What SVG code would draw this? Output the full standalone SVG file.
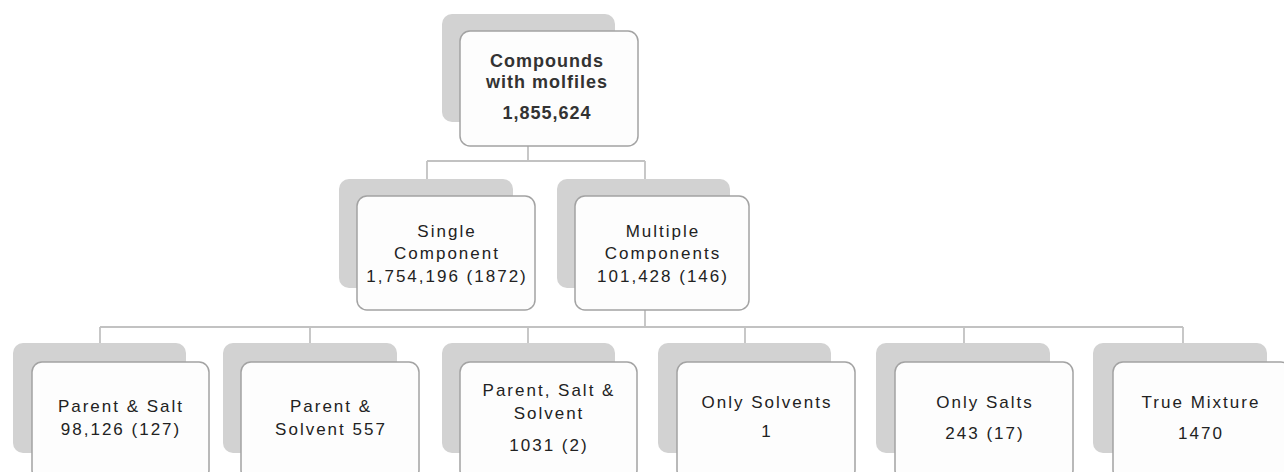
<svg xmlns="http://www.w3.org/2000/svg" width="1284" height="472" viewBox="0 0 1284 472">
<style>
.sh{fill:#d2d2d2}
.fr{fill:#fdfdfd;stroke:#a3a3a3;stroke-width:1.5}
.t{font-family:"Liberation Sans",Arial,sans-serif;font-size:17px;letter-spacing:2px;fill:#222;text-anchor:middle}
.b{font-weight:bold;fill:#333;font-size:18px;letter-spacing:1px}
.c{fill:none;stroke:#c2c2c2;stroke-width:1.8}
</style>
<rect width="1284" height="472" fill="#ffffff"/>
<g id="connectors">
<path class="c" d="M528 146V161M427 161H645M427 161V179M645 161V179"/>
<path class="c" d="M645 310V327M100 327H1183M100 327V343M310 327V343M528 327V343M745 327V343M964 327V343M1183 327V343"/>
</g>
<g id="n-top">
<rect class="sh" x="442" y="14" width="173" height="108" rx="10"/>
<rect class="fr" x="460" y="31" width="178" height="115" rx="10"/>
<text class="t b" x="547" y="67">Compounds</text>
<text class="t b" x="547" y="88">with molfiles</text>
<text class="t b" x="547" y="119">1,855,624</text>
</g>
<g id="n-single">
<rect class="sh" x="339" y="179" width="174" height="109" rx="10"/>
<rect class="fr" x="357" y="196" width="178" height="114" rx="10"/>
<text class="t" x="447" y="237">Single</text>
<text class="t" x="447" y="259">Component</text>
<text class="t" x="447" y="282">1,754,196 (1872)</text>
</g>
<g id="n-multiple">
<rect class="sh" x="557" y="179" width="173" height="109" rx="10"/>
<rect class="fr" x="575" y="196" width="174" height="114" rx="10"/>
<text class="t" x="663" y="237">Multiple</text>
<text class="t" x="663" y="259">Components</text>
<text class="t" x="663" y="282">101,428 (146)</text>
</g>
<g id="n-parent-salt">
<rect class="sh" x="13" y="343" width="173" height="110" rx="10"/>
<rect class="fr" x="32" y="362" width="177" height="118" rx="10"/>
<text class="t" x="121" y="412">Parent &amp; Salt</text>
<text class="t" x="121" y="435">98,126 (127)</text>
</g>
<g id="n-parent-solvent">
<rect class="sh" x="223" y="343" width="174" height="110" rx="10"/>
<rect class="fr" x="241" y="362" width="178" height="118" rx="10"/>
<text class="t" x="331" y="412">Parent &amp;</text>
<text class="t" x="331" y="435">Solvent 557</text>
</g>
<g id="n-parent-salt-solvent">
<rect class="sh" x="442" y="343" width="173" height="110" rx="10"/>
<rect class="fr" x="460" y="362" width="177" height="118" rx="10"/>
<text class="t" x="549" y="396">Parent, Salt &amp;</text>
<text class="t" x="549" y="419">Solvent</text>
<text class="t" x="549" y="451">1031 (2)</text>
</g>
<g id="n-only-solvents">
<rect class="sh" x="658" y="343" width="173" height="110" rx="10"/>
<rect class="fr" x="677" y="362" width="178" height="118" rx="10"/>
<text class="t" x="767" y="408">Only Solvents</text>
<text class="t" x="767" y="437">1</text>
</g>
<g id="n-only-salts">
<rect class="sh" x="876" y="343" width="174" height="110" rx="10"/>
<rect class="fr" x="895" y="362" width="178" height="118" rx="10"/>
<text class="t" x="985" y="408">Only Salts</text>
<text class="t" x="985" y="439">243 (17)</text>
</g>
<g id="n-true-mixture">
<rect class="sh" x="1093" y="343" width="174" height="110" rx="10"/>
<rect class="fr" x="1113" y="362" width="178" height="118" rx="10"/>
<text class="t" x="1201" y="408">True Mixture</text>
<text class="t" x="1201" y="439">1470</text>
</g>
</svg>
